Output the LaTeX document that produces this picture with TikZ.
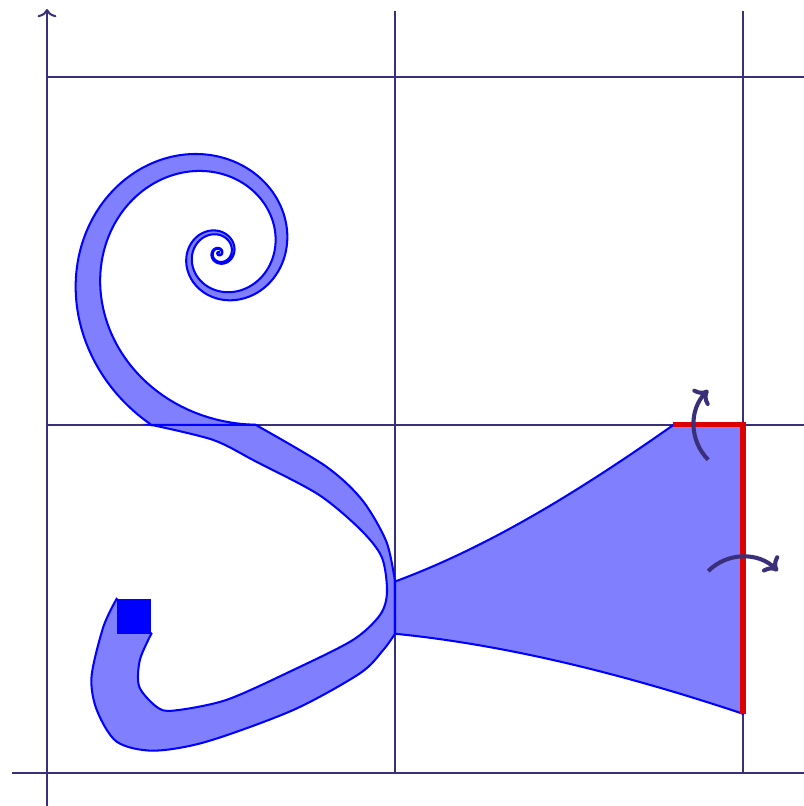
\documentclass[tikz,border=0pt]{standalone}
\usetikzlibrary{arrows.meta}
\definecolor{cgrid}{RGB}{58,48,122}
\definecolor{cedge}{RGB}{221,0,0}
\tikzset{sheet/.style={x=3cm,y=3cm,line width=0.5pt}}
\tikzset{ribbon/.style={draw=blue,fill=blue!50,line width=0.5pt},
         axis/.style={cgrid,-{Computer Modern Rightarrow[length=2pt,width=4.6pt]}},
         normal/.style={cgrid,line width=1pt,bend left=45,
                        -{Computer Modern Rightarrow[length=3pt,width=5.6pt]}}}
\begin{document}
\begin{tikzpicture}[sheet]
    \clip (-0.135,-0.095) rectangle (2.175,2.221);
    \def\cx{0.494}\def\cy{1.494}\def\r{0.1724}
    \foreach \x in {1,2} \draw[cgrid] (\x,0) -- (\x,2.19);
    \foreach \y in {1,2} \draw[cgrid] (0,\y) -- (2.3,\y);
    \draw[axis] (0,-0.2) -- (0,2.195);
    \draw[axis] (-0.1,0) -- (2.2,0);
    % hook and s-bend
    \filldraw[ribbon] plot[smooth] coordinates {(0.2,0.5) (0.162,0.42) (0.128,0.277) (0.143,0.181) (0.2,0.09)
        (0.305,0.064) (0.459,0.09) (0.708,0.181) (0.899,0.286) (0.966,0.353) (1,0.4)}
      -- plot[smooth] coordinates {(1,0.55) (0.975,0.665) (0.905,0.785) (0.8,0.882) (0.6,1)}
      -- plot[smooth] coordinates {(0.3,1) (0.477,0.957) (0.6,0.895) (0.78,0.8) (0.9,0.7) (0.962,0.62)
        (0.977,0.52) (0.957,0.454) (0.879,0.382) (0.708,0.296) (0.516,0.21) (0.363,0.179)
        (0.315,0.19) (0.265,0.248) (0.267,0.325) (0.3,0.4)} -- cycle;
    % spiral
    \filldraw[ribbon] (0.3,1)
      -- plot[domain=249:-1000,samples=500,variable=\a]
           ({\cx+1.11*\r*exp(0.0041*\a)*cos(\a)},{\cy+1.11*\r*exp(0.0041*\a)*sin(\a)})
      -- plot[domain=-1000:282,samples=500,variable=\a]
           ({\cx+0.92*\r*exp(0.0041*\a)*cos(\a)},{\cy+0.92*\r*exp(0.0041*\a)*sin(\a)})
      -- (0.6,1) -- cycle;
    % trumpet
    \filldraw[ribbon] (1,0.4) -- (1,0.55) .. controls (1.27,0.65) and (1.53,0.81) .. (1.8,1)
      -- (2,1) -- (2,0.17) .. controls (1.67,0.28) and (1.33,0.367) .. cycle;
    \fill[blue] (0.2,0.4) rectangle (0.3,0.5);
    \draw[cedge,line width=1.25pt] (1.8,1) -- (2,1) -- (2,0.17);
    \coordinate (ntop-s) at (1.9,0.9);
    \coordinate (ntop-e) at (1.9,1.1);
    \coordinate (nright-s) at (1.9,0.58);
    \coordinate (nright-e) at (2.1,0.58);
    \draw[normal] (ntop-s) to (ntop-e);
    \draw[normal] (nright-s) to (nright-e);
\end{tikzpicture}
\end{document}
